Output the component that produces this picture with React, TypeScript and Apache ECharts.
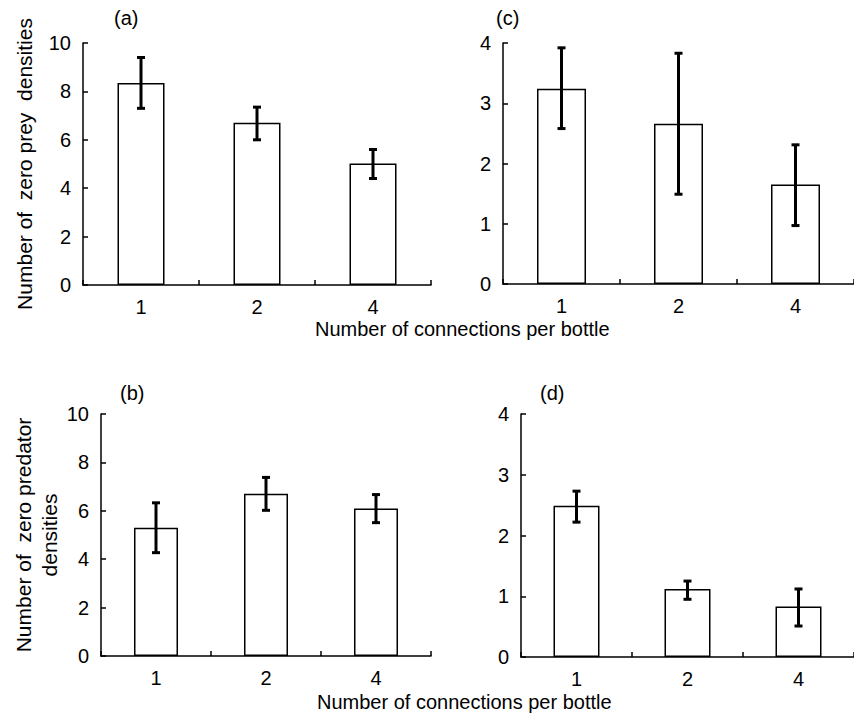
import React, { useEffect, useRef } from "react";
import * as echarts from "echarts";

const categories = ["1", "2", "4"];

// (a) zero prey densities, panel a
const aMeans = [8.35, 6.7, 5.02];
const aLow = [7.3, 6.0, 4.4];
const aHigh = [9.4, 7.35, 5.6];

// (c)
const cMeans = [3.24, 2.66, 1.65];
const cLow = [2.58, 1.49, 0.97];
const cHigh = [3.92, 3.83, 2.31];

// (b) zero predator densities
const bMeans = [5.3, 6.7, 6.1];
const bLow = [4.27, 6.02, 5.51];
const bHigh = [6.33, 7.38, 6.67];

// (d)
const dMeans = [2.49, 1.12, 0.83];
const dLow = [2.22, 0.95, 0.51];
const dHigh = [2.73, 1.25, 1.12];

const yTicksLeft = { max: 10, interval: 2 };
const yTicksRight = { max: 4, interval: 1 };

const FONT = "Liberation Sans, Arial, Helvetica, sans-serif";

export default function App() {
  const ref = useRef<HTMLDivElement>(null);
  useEffect(() => {
    document.body.style.margin = "0";
    const chart = echarts.init(ref.current!, null, { renderer: "svg" });

    const grids = [
      { left: 83, top: 43, width: 348, height: 242 },
      { left: 503, top: 43, width: 357, height: 241 },
      { left: 101, top: 414, width: 330, height: 242 },
      { left: 521, top: 414, width: 342, height: 243 },
    ];
    const barWidths = [47, 49, 44, 46];
    const panels = [
      { means: aMeans, low: aLow, high: aHigh, y: yTicksLeft },
      { means: cMeans, low: cLow, high: cHigh, y: yTicksRight },
      { means: bMeans, low: bLow, high: bHigh, y: yTicksLeft },
      { means: dMeans, low: dLow, high: dHigh, y: yTicksRight },
    ];
    const yNames = [
      "Number of  zero prey  densities",
      "",
      "Number of  zero predator\ndensities",
      "",
    ];
    const yNameGaps = [46, 0, 37, 0];

    const axisLine = { show: true, lineStyle: { color: "#000", width: 1.5 } };
    const axisTick = { show: true, inside: true, length: 5, lineStyle: { color: "#000", width: 1.5 } };
    const axisLabel = { color: "#000", fontSize: 20, fontFamily: FONT, margin: 12 };

    const renderErr = (params: any, api: any) => {
      const x = api.value(0);
      const pLo = api.coord([x, api.value(1)]);
      const pHi = api.coord([x, api.value(2)]);
      const hw = 4;
      const style = { stroke: "#000", lineWidth: 3 };
      return {
        type: "group",
        children: [
          { type: "line", shape: { x1: pLo[0], y1: pLo[1], x2: pHi[0], y2: pHi[1] }, style },
          { type: "line", shape: { x1: pLo[0] - hw, y1: pLo[1], x2: pLo[0] + hw, y2: pLo[1] }, style },
          { type: "line", shape: { x1: pHi[0] - hw, y1: pHi[1], x2: pHi[0] + hw, y2: pHi[1] }, style },
        ],
      };
    };

    const series: any[] = [];
    panels.forEach((p, i) => {
      series.push({
        type: "bar",
        xAxisIndex: i,
        yAxisIndex: i,
        data: p.means,
        barWidth: barWidths[i],
        itemStyle: { color: "#fff", borderColor: "#000", borderWidth: 1.5 },
        z: 2,
      });
      series.push({
        type: "custom",
        xAxisIndex: i,
        yAxisIndex: i,
        renderItem: renderErr,
        data: p.means.map((_, k) => [k, p.low[k], p.high[k]]),
        z: 3,
      });
    });

    const option: any = {
      animation: false,
      backgroundColor: "#fff",
      grid: grids,
      xAxis: grids.map((_, i) => ({
        type: "category",
        gridIndex: i,
        data: categories,
        axisLine,
        axisTick: { ...axisTick, alignWithLabel: false },
        axisLabel,
        splitLine: { show: false },
      })),
      yAxis: panels.map((p, i) => ({
        type: "value",
        gridIndex: i,
        min: 0,
        max: p.y.max,
        interval: p.y.interval,
        axisLine,
        axisTick,
        axisLabel,
        splitLine: { show: false },
        name: yNames[i],
        nameLocation: "middle",
        nameRotate: 90,
        nameGap: yNameGaps[i],
        nameTextStyle: { color: "#000", fontSize: 21, fontFamily: FONT, lineHeight: 26, align: "center" },
      })),
      graphic: [
        { type: "text", left: 114, top: 8, style: { text: "(a)", fontSize: 20, fontFamily: FONT, fill: "#000" } },
        { type: "text", left: 496, top: 8, style: { text: "(c)", fontSize: 20, fontFamily: FONT, fill: "#000" } },
        { type: "text", left: 120, top: 383, style: { text: "(b)", fontSize: 20, fontFamily: FONT, fill: "#000" } },
        { type: "text", left: 540, top: 383, style: { text: "(d)", fontSize: 20, fontFamily: FONT, fill: "#000" } },
        { type: "text", left: 315, top: 319, style: { text: "Number of connections per bottle", fontSize: 20, fontFamily: FONT, fill: "#000" } },
        { type: "text", left: 317, top: 692, style: { text: "Number of connections per bottle", fontSize: 20, fontFamily: FONT, fill: "#000" } },
      ],
      series,
    };
    chart.setOption(option);
    return () => chart.dispose();
  }, []);
  return <div ref={ref} style={{ width: 854, height: 716 }} />;
}
